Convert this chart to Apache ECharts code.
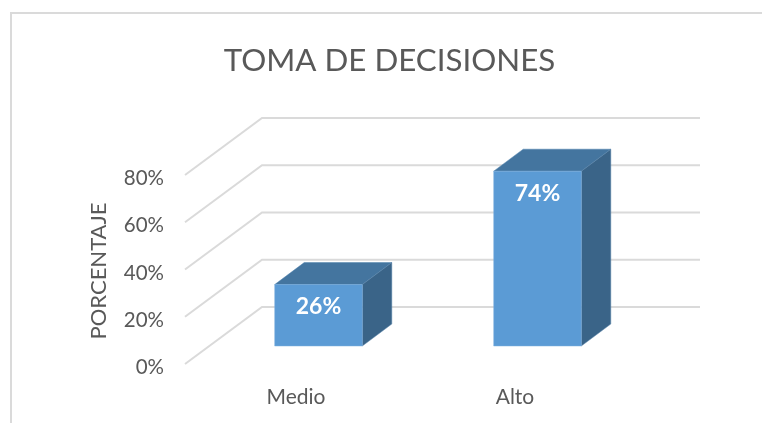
<!DOCTYPE html>
<html>
<head>
<meta charset="utf-8">
<style>
  html, body { margin: 0; padding: 0; background: #fff; }
  #chart { width: 762px; height: 423px; }
</style>
</head>
<body>
<div id="chart"></div>
<script src="https://cdn.jsdelivr.net/npm/echarts@6/dist/echarts.min.js"></script>
<script>
const categories = ['Medio', 'Alto']
const values = [26, 74]
const ticks = [0, 20, 40, 60, 80]

const fontName = 'Lato'
const textColor = '#595959'
const lineColor = '#dadada'

// fake 3d: how far the back wall and the bars sit from the front floor edge
const wallDx = 77
const wallDy = -57
const barOffsetDx = 24
const barOffsetDy = -18
const barDx = 29.5
const barDy = -22

const myChart = echarts.init(document.getElementById('chart'))

function renderWall(params, api) {
  const y = api.coord([0, api.value(1)])[1]
  const x0 = params.coordSys.x
  const x1 = x0 + params.coordSys.width
  return {
    type: 'polyline',
    shape: { points: [[x0, y], [x0 + wallDx, y + wallDy], [x1 + wallDx, y + wallDy]] },
    style: { stroke: lineColor, lineWidth: 2, fill: 'none' },
    silent: true
  }
}

function renderBar(params, api) {
  const base = api.coord([api.value(0), 0])
  const top = api.coord([api.value(0), api.value(1)])
  const w = api.size([1, 0])[0] * 0.4
  const x0 = base[0] + barOffsetDx - w / 2
  const x1 = x0 + w
  const yb = base[1] + barOffsetDy
  const yt = top[1] + barOffsetDy
  return {
    type: 'group',
    children: [
      {
        type: 'polygon',
        shape: { points: [[x0, yt], [x0 + barDx, yt + barDy], [x1 + barDx, yt + barDy], [x1, yt]] },
        style: { fill: '#44759f', stroke: '#4d80ad', lineWidth: 0.5 }
      },
      {
        type: 'polygon',
        shape: { points: [[x1, yt], [x1 + barDx, yt + barDy], [x1 + barDx, yb + barDy], [x1, yb]] },
        style: { fill: '#3a6488', stroke: '#5c87ad', lineWidth: 0.5 }
      },
      {
        type: 'rect',
        shape: { x: x0, y: yt, width: w, height: yb - yt },
        style: { fill: '#5b9bd5', stroke: '#7fb0de', lineWidth: 0.5 }
      },
      {
        type: 'text',
        x: x0 + w / 2,
        y: yt + 22,
        style: {
          text: api.value(1) + '%',
          fill: '#fff',
          fontFamily: fontName,
          fontWeight: 'bold',
          fontSize: 23,
          align: 'center',
          verticalAlign: 'middle'
        }
      }
    ]
  }
}

const option = {
  animation: false,
  backgroundColor: '#fff',
  title: {
    text: 'TOMA DE DECISIONES',
    left: 384.5,
    top: 40,
    textAlign: 'center',
    textStyle: { color: textColor, fontFamily: fontName, fontSize: 31.3, fontWeight: 'normal' }
  },
  grid: { left: 185, top: 175, width: 438, height: 189 },
  xAxis: {
    type: 'category',
    data: categories,
    axisLine: { show: false },
    axisTick: { show: false },
    axisLabel: { color: textColor, fontFamily: fontName, fontSize: 21, margin: 23, padding: [0, 0, 0, 3] }
  },
  yAxis: {
    type: 'value',
    min: 0,
    max: 80,
    interval: 20,
    name: 'PORCENTAJE',
    nameLocation: 'middle',
    nameGap: 75,
    nameRotate: 90,
    nameTextStyle: { color: textColor, fontFamily: fontName, fontSize: 22, padding: [0, 3, 0, 0] },
    splitLine: { show: false },
    axisLine: { show: false },
    axisTick: { show: false },
    axisLabel: { color: textColor, fontFamily: fontName, fontSize: 20.5, margin: 21, verticalAlign: 'top', padding: [-7, 0, 0, 0], formatter: '{value}%' }
  },
  graphic: [
    {
      type: 'polyline',
      shape: { points: [[11, 423], [11, 13], [762, 13]] },
      style: { stroke: lineColor, lineWidth: 2, fill: 'none' },
      silent: true
    }
  ],
  series: [
    {
      type: 'custom',
      renderItem: renderWall,
      data: ticks.map(t => [0, t]),
      silent: true,
      z: 1
    },
    {
      type: 'custom',
      renderItem: renderBar,
      data: values.map((v, i) => [i, v]),
      z: 2
    }
  ]
}
myChart.setOption(option)
</script>
</body>
</html>
